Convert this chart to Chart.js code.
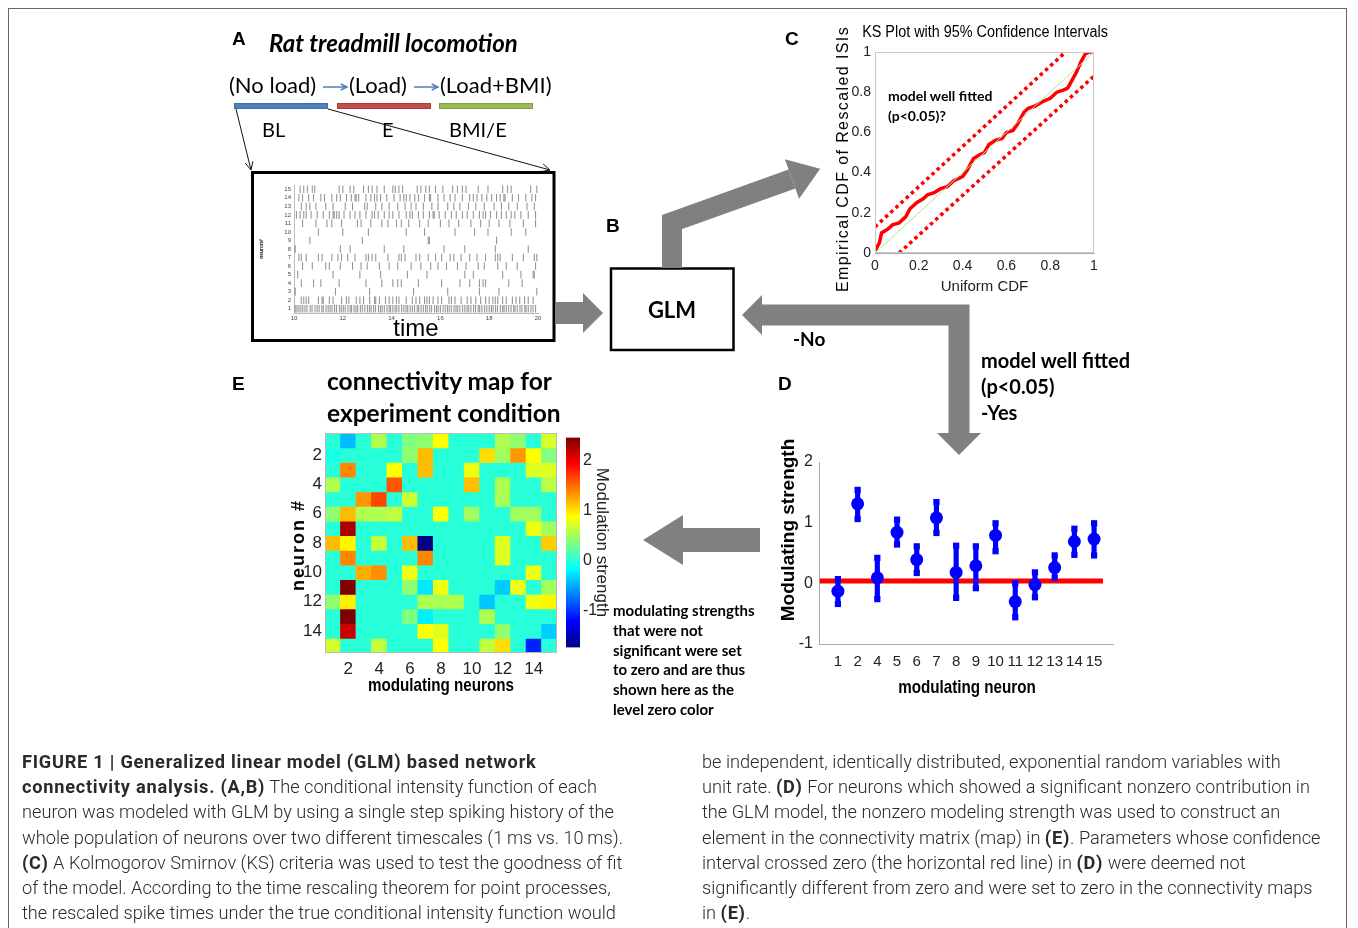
<!DOCTYPE html>
<html>
<head>
<meta charset="utf-8">
<script src="https://cdn.jsdelivr.net/npm/chart.js@4.4.1/dist/chart.umd.min.js"></script>
<style>
  body { margin: 0; width: 1358px; height: 928px; overflow: hidden; background: #fff; position: relative;
         font-family: 'Liberation Sans', Arial, sans-serif; }
  canvas { position: absolute; }
  .abs { position: absolute; white-space: nowrap; line-height: 1; }
  #frame { position: absolute; left: 8px; top: 8px; width: 1337px; height: 960px;
           border: 1.5px solid #666; border-bottom: none; }
  .cap { position: absolute; top: 749px; font-family: Roboto, 'Liberation Sans', sans-serif; font-weight: 300;
         font-size: 18.2px; line-height: 25.2px; color: #2a2a2a; white-space: nowrap; }
  .cap b { font-weight: 700; letter-spacing: 0.75px; }
</style>
</head>
<body>
<div id="frame"></div>
<canvas id="page" width="1358" height="928" style="left:0;top:0"></canvas>

<div class="cap" style="left:22px">
<b>FIGURE 1 | Generalized linear model (GLM) based network</b><br>
<b>connectivity analysis. (A,B)</b> The conditional intensity function of each<br>
neuron was modeled with GLM by using a single step spiking history of the<br>
whole population of neurons over two different timescales (1&#8201;ms vs. 10&#8201;ms).<br>
<b>(C)</b> A Kolmogorov Smirnov (KS) criteria was used to test the goodness of fit<br>
of the model. According to the time rescaling theorem for point processes,<br>
the rescaled spike times under the true conditional intensity function would
</div>
<div class="cap" style="left:702px">
be independent, identically distributed, exponential random variables with<br>
unit rate. <b>(D)</b> For neurons which showed a significant nonzero contribution in<br>
the GLM model, the nonzero modeling strength was used to construct an<br>
element in the connectivity matrix (map) in <b>(E)</b>. Parameters whose confidence<br>
interval crossed zero (the horizontal red line) in <b>(D)</b> were deemed not<br>
significantly different from zero and were set to zero in the connectivity maps<br>
in <b>(E)</b>.
</div>

<script>
// ---------- data ----------
// C: KS plot
const ksX = [0, 0.02, 0.03, 0.06, 0.08, 0.11, 0.14, 0.16, 0.19, 0.22, 0.24, 0.27, 0.3, 0.33, 0.36, 0.4, 0.42, 0.45,
  0.48, 0.5, 0.52, 0.55, 0.58, 0.6, 0.63, 0.65, 0.68, 0.7, 0.73, 0.76, 0.8, 0.83, 0.86, 0.88, 0.9, 0.92, 0.94, 0.96, 0.98, 1];
const ksY = [0.01, 0.05, 0.1, 0.12, 0.14, 0.15, 0.18, 0.22, 0.25, 0.27, 0.29, 0.3, 0.32, 0.33, 0.36, 0.38, 0.41, 0.47,
  0.49, 0.5, 0.54, 0.56, 0.57, 0.6, 0.61, 0.64, 0.7, 0.72, 0.73, 0.75, 0.77, 0.8, 0.81, 0.82, 0.86, 0.9, 0.95, 0.99, 1, 1];
const ciUpperX = [0, 0.87], ciUpperY = [0.13, 1];
const ciLowerX = [0.11, 1], ciLowerY = [0, 0.88];
const diagX = [0, 1], diagY = [0, 1];
const ksTicks = [0, 0.2, 0.4, 0.6, 0.8, 1];

// D: modulating strengths with confidence intervals
const dLabels = ['1', '2', '4', '5', '6', '7', '8', '9', '10', '11', '12', '13', '14', '15'];
const dMean = [-0.13, 1.31, 0.09, 0.84, 0.39, 1.08, 0.18, 0.29, 0.79, -0.30, -0.02, 0.26, 0.69, 0.73];
const dLow  = [-0.34, 1.06, -0.26, 0.64, 0.17, 0.83, -0.24, -0.08, 0.53, -0.56, -0.23, 0.09, 0.47, 0.46];
const dHigh = [0.07, 1.54, 0.42, 1.05, 0.61, 1.34, 0.62, 0.61, 0.99, 0.00, 0.18, 0.46, 0.90, 0.99];
const zeroLineX = [-0.92, 13.45];
const zeroLevel = 0.04;
const dTicksY = [-1, 0, 1, 2];

// E: connectivity map (rows = neuron #, columns = modulating neurons)
const heatCols = ['1', '2', '3', '4', '5', '6', '7', '8', '9', '10', '11', '12', '13', '14', '15'];
const row01 = [0, -0.43, 0, 0.56, 0, 0.37, 0.43, 0.89, 0, 0, 0, 0.56, 0.43, 0, 0.73];
const row02 = [-0.06, 0, 0, 0, 0, 0.43, 1.17, 0, 0, 0, 1.03, 0.50, 1.31, 0.89, 0.37];
const row03 = [0, 1.38, 0, 0, 0.89, 0, 1.17, 0, 0, 0.82, 0, 0, 0, 0.75, 0.75];
const row04 = [0.56, 0, 0, 0, 1.58, 0, 0, 0, 0, 1.15, 0, 0.56, 0, 0, 0.60];
const row05 = [0, 0, 1.31, 1.65, 0, 0.68, 0, 0, 0, 0, 0, 0.53, 0, 0, 0];
const row06 = [0.43, 1.17, 0.56, 0.56, 0.63, 0, 0, 0.89, 0, 0.50, 0, 0, 0.50, 0.50, 0];
const row07 = [0, 2.28, 0, 0, 0, 0, 0, 0, 0, 0, 0, 0, 0, 0.82, 0.50];
const row08 = [1.17, 0.92, 0, 0.65, 0, 1.17, -1.70, 0, 0, 0, 0, 0.76, 0, 0, 1.10];
const row09 = [0, 1.38, 0, 0, 0, 0, 1.38, 0, 0, 0, 0, 0.76, 0, 0, 0];
const row10 = [0, 0, 1.23, 1.35, 0, 0.82, 0, 0, 0, 0, 0, 0, 0, 0.82, 0];
const row11 = [0, 2.46, 0, 0, 0, 0.43, -0.25, 0.82, 0, 0, 0, -0.37, 0.82, 0, 0.50];
const row12 = [0.43, 0.95, 0, 0, 0, 0, 0.56, 0.53, 0.56, 0, -0.39, 0, 0, 0.82, 0.92];
const row13 = [0, 2.46, 0, 0, 0, 0.37, -0.22, 0, 0, 0, 0.56, 0, 0, 0, 0];
const row14 = [0, 2.15, 0, 0, 0, 0, 0.89, 0.76, 0, 0, 0, 0.43, 0, 0, -0.37];
const row15 = [0.70, 0, 0, 0.63, 0, 0, 0, 0.89, 0, 0, 0.63, 1.03, 0, -1.07, 0];
const heatRows = [row01, row02, row03, row04, row05, row06, row07, row08, row09, row10, row11, row12, row13, row14, row15];
const heatTicksY = [2, 4, 6, 8, 10, 12, 14];
const cMin = -1.73, cMax = 2.46;
const cbarTicks = [-1, 0, 1, 2];

// A: raster, spike times per neuron
const n01 = [10.05,10.12,10.2,10.28,10.36,10.45,10.53,10.66,10.74,10.86,10.95,11.03,11.14,11.2,11.31,11.4,11.48,11.56,11.66,11.74,
  11.86,11.94,12.02,12.1,12.21,12.3,12.36,12.46,12.54,12.61,12.72,12.8,12.9,13.01,13.09,13.16,13.26,13.34,13.46,13.54,13.61,13.7,
  13.81,13.9,13.96,14.05,14.14,14.21,14.3,14.41,14.5,14.59,14.66,14.76,14.85,14.94,15.05,15.11,15.21,15.3,15.39,15.46,15.56,15.64,
  15.76,15.84,15.91,16.0,16.11,16.2,16.29,16.36,16.45,16.56,16.64,16.71,16.8,16.91,17.0,17.09,17.16,17.25,17.36,17.44,17.55,17.61,
  17.7,17.81,17.9,18.0,18.09,18.16,18.26,18.34,18.46,18.55,18.61,18.7,18.8,18.9,19.0,19.06,19.15,19.26,19.34,19.46,19.51,19.6,19.71,19.8,19.9];
const n02 = [10.3,10.4,10.5,10.6,11.0,11.15,11.2,11.45,11.6,11.95,12.15,12.25,12.55,12.7,12.85,13.1,13.3,13.35,13.5,13.75,13.9,14.05,
  14.2,14.3,14.6,14.85,15.0,15.15,15.35,15.45,15.55,15.7,15.9,16.05,16.35,16.45,16.6,16.85,17.1,17.25,17.45,17.65,17.85,18.0,18.15,
  18.25,18.35,18.55,18.7,18.95,19.1,19.25,19.45,19.6,19.8];
const n03 = [10.05, 11.7, 13.1, 14.9, 16.3, 17.6, 18.4, 19.95];
const n04 = [10.3,10.8,11.1,11.85,12.95,13.6,14.05,14.25,14.4,15.1,16.05,16.8,17.2,17.6,17.75,17.85,18.8,19.35];
const n05 = [10.15, 11.6, 12.7, 13.55, 14.65, 15.45, 17.0, 17.35, 18.55, 19.3, 19.8, 19.85];
const n06 = [10.35,10.75,11.3,11.45,11.9,12.4,12.75,13.0,13.5,13.9,14.25,14.8,15.2,15.6,15.9,16.25,16.7,17.05,17.55,17.8,18.35,18.7,19.15,19.9];
const n07 = [10.2,10.3,10.5,11.0,11.15,11.55,11.8,11.95,12.2,12.5,12.95,13.05,13.2,13.35,13.85,14.3,14.4,14.55,15.0,15.15,15.5,
  15.8,16.05,16.4,16.55,16.85,17.2,17.5,17.85,18.25,18.35,18.45,18.95,19.4,19.85,19.95];
const n08 = [10.05, 11.9, 12.3, 13.7, 14.5, 16.15, 17.0, 18.25, 19.6];
const n09 = [10.65, 12.8, 15.5, 15.55, 18.3];
const n10 = [11.0, 12.0, 13.05, 14.6, 15.35, 16.6, 17.4, 17.95, 18.9, 19.5];
const n11 = [10.35,10.9,11.35,11.55,11.95,12.6,12.75,13.15,13.6,13.85,14.2,14.4,14.7,15.15,15.5,16.0,16.35,16.75,17.25,17.65,18.0,18.4,18.85,19.4,19.9];
const n12 = [10.1,10.25,10.4,10.5,10.7,10.95,11.2,11.45,11.6,11.65,11.75,11.85,12.05,12.3,12.5,12.7,12.95,13.2,13.3,13.45,13.7,13.9,
  14.05,14.3,14.6,14.75,14.85,15.1,15.3,15.55,15.7,15.75,15.95,16.2,16.45,16.65,16.9,17.1,17.35,17.6,17.75,17.85,18.05,18.3,18.5,
  18.7,18.9,19.05,19.3,19.6,19.9];
const n13 = [10.3,10.5,10.65,10.9,11.3,11.6,12.1,12.4,12.9,13.0,13.35,13.6,13.9,14.25,14.55,14.8,15.0,15.3,15.65,15.9,16.3,16.55,
  16.8,17.15,17.45,17.8,18.2,18.5,18.8,19.15,19.55,19.85];
const n14 = [10.2,10.35,10.6,10.8,11.1,11.25,11.55,11.75,11.9,12.15,12.35,12.5,12.55,12.65,12.95,13.15,13.3,13.4,13.55,13.8,14.1,
  14.35,14.5,14.6,14.75,14.95,15.1,15.35,15.55,15.6,15.9,16.15,16.4,16.6,16.9,17.2,17.35,17.5,17.7,17.9,18.1,18.3,18.45,18.6,18.65,
  18.95,19.2,19.5,19.75,19.9];
const n15 = [10.25,10.4,10.55,10.75,10.85,11.85,12.0,12.3,12.45,12.85,13.05,13.2,13.4,13.7,14.05,14.15,14.3,14.45,15.05,15.2,15.4,
  15.55,15.8,16.1,16.5,16.7,16.9,17.05,17.55,17.95,18.55,18.75,18.9,19.7,19.95];
const spikeTrains = [n01, n02, n03, n04, n05, n06, n07, n08, n09, n10, n11, n12, n13, n14, n15];
const rasterTicksX = [10, 12, 14, 16, 18, 20];
const rasterTicksY = [1, 2, 3, 4, 5, 6, 7, 8, 9, 10, 11, 12, 13, 14, 15];

// ---------- helpers ----------
const NARROW = "'Liberation Sans Narrow','Liberation Sans',Arial,sans-serif";
Chart.defaults.animation = false;
Chart.defaults.font.family = NARROW;
Chart.defaults.color = '#222';
Chart.defaults.plugins.legend.display = false;
Chart.defaults.plugins.tooltip.enabled = false;
Chart.defaults.events = [];

function clamp(v) { return Math.max(0, Math.min(1, v)); }
function jetT(t) {
  const r = clamp(1.5 - Math.abs(4 * t - 3)), g = clamp(1.5 - Math.abs(4 * t - 2)), b = clamp(1.5 - Math.abs(4 * t - 1));
  return `rgb(${Math.round(r * 255)},${Math.round(g * 255)},${Math.round(b * 255)})`;
}
function jet(v) { return jetT(clamp((v - cMin) / (cMax - cMin))); }

function cv(x, y, w, h) {
  const c = document.createElement('canvas');
  c.width = w; c.height = h;
  c.style.left = x + 'px'; c.style.top = y + 'px';
  c.style.width = w + 'px'; c.style.height = h + 'px';
  document.body.appendChild(c);
  return c;
}
function fixedTicks(arr) { return s => { s.ticks = arr.map(v => ({ value: v })); }; }
const noGrid = { display: false, drawTicks: false };

// light box round the plot area (matlab "box on")
const frame = {
  id: 'frame',
  afterDatasetsDraw(chart, args, opts) {
    if (!opts.color) return;
    const { ctx, chartArea: a } = chart;
    ctx.save();
    ctx.strokeStyle = opts.color;
    ctx.lineWidth = 1;
    ctx.strokeRect(Math.round(a.left) + 0.5, Math.round(a.top) + 0.5, Math.round(a.width) - 1, Math.round(a.height) - 1);
    ctx.restore();
  }
};

function pts(xs, ys) { return xs.map((x, i) => ({ x, y: ys[i] })); }

// ---------- C: KS plot ----------
new Chart(cv(830, 20, 290, 280), {
  type: 'scatter',
  data: {
    datasets: [
      { data: pts(diagX, diagY), showLine: true, borderColor: '#a6e6a6', borderWidth: 1, pointRadius: 0 },
      { data: pts(ciUpperX, ciUpperY), showLine: true, borderColor: '#ff0000', borderWidth: 3.5, borderDash: [3.5, 3.5], pointRadius: 0 },
      { data: pts(ciLowerX, ciLowerY), showLine: true, borderColor: '#ff0000', borderWidth: 3.5, borderDash: [3.5, 3.5], pointRadius: 0 },
      { data: pts(ksX, ksY), showLine: true, borderColor: '#ff0000', borderWidth: 3.5, pointRadius: 0 }
    ]
  },
  options: {
    responsive: false, devicePixelRatio: 1,
    layout: { padding: { top: 32, right: 26 } },
    plugins: { frame: { color: '#c8c8c8' } },
    scales: {
      x: {
        type: 'linear', min: 0, max: 1, afterFit: s => { s.height = 47; }, afterBuildTicks: fixedTicks(ksTicks),
        grid: noGrid, border: { color: '#aaa' }, ticks: { font: { size: 14 }, padding: 5, callback: v => String(v) },
        title: { display: true, text: 'Uniform CDF', font: { size: 15 }, padding: { top: 0, bottom: 4 } }
      },
      y: {
        min: 0, max: 1, afterFit: s => { s.width = 45; }, afterBuildTicks: fixedTicks(ksTicks),
        grid: noGrid, border: { color: '#aaa' }, ticks: { font: { size: 14 }, padding: 4, callback: v => String(v) }
      }
    }
  },
  plugins: [frame]
});

// ---------- D: modulating strength ----------
const caps = [];
dLabels.forEach((_, i) => { caps.push({ x: i, y: dLow[i] }, { x: i, y: dHigh[i] }); });
new Chart(cv(770, 430, 350, 270), {
  type: 'bar',
  data: {
    datasets: [
      { type: 'line', data: pts(zeroLineX, [zeroLevel, zeroLevel]), borderColor: '#ff0000', borderWidth: 5, pointRadius: 0, order: 4 },
      { type: 'bar', data: dLabels.map((_, i) => ({ x: i, y: [dLow[i], dHigh[i]] })), backgroundColor: '#0000ff', barThickness: 4.5, order: 3 },
      { type: 'scatter', data: caps, pointStyle: 'rect', pointRadius: 4.4, backgroundColor: '#0000ff', borderWidth: 0, order: 2 },
      { type: 'scatter', data: pts(dLabels.map((_, i) => i), dMean), pointRadius: 6.5, backgroundColor: '#0000ff', borderWidth: 0, order: 1 }
    ]
  },
  options: {
    responsive: false, devicePixelRatio: 1,
    layout: { padding: { top: 32, right: 7 } },
    scales: {
      x: {
        type: 'linear', min: -0.96, max: 13.96, offset: false, afterFit: s => { s.height = 56; },
        afterBuildTicks: fixedTicks(dLabels.map((_, i) => i)),
        grid: noGrid, border: { color: '#aaa' },
        ticks: { font: { size: 15 }, padding: 9, autoSkip: false, maxRotation: 0, minRotation: 0, callback: v => dLabels[v] }
      },
      y: {
        min: -1, max: 2, afterFit: s => { s.width = 49; }, afterBuildTicks: fixedTicks(dTicksY),
        grid: noGrid, border: { color: '#aaa' }, ticks: { font: { size: 16 }, padding: 6 }
      }
    }
  }
});

// ---------- E: connectivity map ----------
new Chart(cv(280, 420, 285, 280), {
  type: 'bar',
  data: {
    labels: heatCols,
    datasets: heatRows.map((row, r) => ({
      data: row.map(() => [r + 0.5, r + 1.5]),
      backgroundColor: row.map(v => jet(v)),
      grouped: false, barPercentage: 1, categoryPercentage: 1, borderWidth: 0
    }))
  },
  options: {
    responsive: false, devicePixelRatio: 1,
    layout: { padding: { top: 11, right: 8 } },
    plugins: { frame: { color: '#bbb' } },
    scales: {
      x: {
        afterFit: s => { s.height = 47; }, grid: noGrid, border: { display: false },
        ticks: { font: { size: 17 }, padding: 6, autoSkip: false, maxRotation: 0,
                 callback: (v, i) => (i % 2 === 1 ? heatCols[i] : '') }
      },
      y: {
        min: 0.5, max: 15.5, reverse: true, afterFit: s => { s.width = 45; }, afterBuildTicks: fixedTicks(heatTicksY),
        grid: noGrid, border: { display: false }, ticks: { font: { size: 17 }, padding: 3 }
      }
    }
  },
  plugins: [frame]
});

// colour bar
new Chart(cv(560, 425, 65, 235), {
  type: 'bar',
  data: {
    labels: [''],
    datasets: [{
      data: [[cMin, cMax]], barPercentage: 1, categoryPercentage: 1, borderWidth: 0,
      backgroundColor: c => {
        const a = c.chart.chartArea;
        if (!a) return '#000';
        const g = c.chart.ctx.createLinearGradient(0, a.bottom, 0, a.top);
        for (let i = 0; i <= 32; i++) g.addColorStop(i / 32, jetT(i / 32));
        return g;
      }
    }]
  },
  options: {
    responsive: false, devicePixelRatio: 1,
    layout: { padding: { left: 6, top: 5, bottom: 8 } },
    scales: {
      x: { display: false },
      y: {
        position: 'right', min: cMin, max: cMax, afterFit: s => { s.width = 45; }, afterBuildTicks: fixedTicks(cbarTicks),
        grid: noGrid, border: { display: false }, ticks: { font: { size: 16 }, padding: 3 },
        title: { display: true, text: 'Modulation strength', font: { size: 17 }, padding: { top: 13 } }
      }
    }
  }
});

// ---------- A: spike raster ----------
new Chart(cv(253, 174, 300, 166), {
  type: 'scatter',
  data: {
    datasets: [{
      data: spikeTrains.flatMap((times, k) => times.map(t => ({ x: t, y: k + 1 }))),
      pointStyle: 'line', rotation: 90, pointRadius: 3.8, borderColor: 'rgba(80,80,80,0.6)', borderWidth: 1.1
    }]
  },
  options: {
    responsive: false, devicePixelRatio: 1,
    layout: { padding: { top: 11, right: 15 } },
    scales: {
      x: {
        min: 10, max: 20, afterFit: s => { s.height = 27; }, afterBuildTicks: fixedTicks(rasterTicksX),
        grid: { display: false, drawTicks: false }, border: { color: '#bbb' },
        ticks: { font: { size: 6 }, padding: 2, color: '#444', autoSkip: false, maxRotation: 0 }
      },
      y: {
        min: 0.5, max: 15.5, afterFit: s => { s.width = 41; }, afterBuildTicks: fixedTicks(rasterTicksY),
        grid: { display: false, drawTicks: false }, border: { color: '#bbb' },
        ticks: { font: { size: 6 }, padding: 3, color: '#444', autoSkip: false },
        title: { display: true, text: 'neuron#', font: { size: 5, weight: 'bold' }, padding: { top: 6 } }
      }
    }
  }
});

// ---------- diagram drawing ----------
const pg = document.getElementById('page').getContext('2d');
const GRAY = '#808080';
function poly(p, fill) {
  pg.beginPath();
  p.forEach(([x, y], i) => (i ? pg.lineTo(x, y) : pg.moveTo(x, y)));
  pg.closePath(); pg.fillStyle = fill; pg.fill();
}
function band(p, w) {
  pg.beginPath();
  p.forEach(([x, y], i) => (i ? pg.lineTo(x, y) : pg.moveTo(x, y)));
  pg.lineWidth = w; pg.lineJoin = 'miter'; pg.lineCap = 'butt'; pg.strokeStyle = GRAY; pg.stroke();
}
function thinArrow(x1, y1, x2, y2, color, w, hs) {
  pg.beginPath(); pg.moveTo(x1, y1); pg.lineTo(x2, y2);
  const a = Math.atan2(y2 - y1, x2 - x1);
  pg.moveTo(x2 - hs * Math.cos(a - 0.45), y2 - hs * Math.sin(a - 0.45));
  pg.lineTo(x2, y2);
  pg.lineTo(x2 - hs * Math.cos(a + 0.45), y2 - hs * Math.sin(a + 0.45));
  pg.strokeStyle = color; pg.lineWidth = w; pg.lineJoin = 'miter'; pg.stroke();
}

// phase bars
[[234, '#4f81bd', '#3c6a9e'], [337, '#c0504d', '#9c3b39'], [439, '#9bbb59', '#7c9a43']].forEach(([x, f, s]) => {
  pg.fillStyle = f; pg.fillRect(x, 103, 94, 6);
  pg.strokeStyle = s; pg.lineWidth = 0.8; pg.strokeRect(x + 0.5, 103.5, 93, 5);
});
thinArrow(323, 87, 347, 87, '#4f81bd', 1.5, 7);
thinArrow(414, 87, 438, 87, '#4f81bd', 1.5, 7);
thinArrow(236, 109, 251, 170, '#111', 1, 9);
thinArrow(328, 109, 550, 170, '#111', 1, 9);

// raster box and GLM box
pg.strokeStyle = '#000';
pg.lineWidth = 3; pg.strokeRect(252.5, 172.5, 301.5, 168);
pg.lineWidth = 2.5; pg.strokeRect(611, 268.5, 122.5, 81.5);

// thick grey arrows
poly([[555, 302], [583, 302], [583, 293], [603, 313], [583, 333], [583, 324], [555, 324]], GRAY);
band([[672, 268], [672, 222], [792, 179]], 20);
poly([[784.9, 159.2], [820.2, 168.8], [799.1, 198.8]], GRAY);
band([[762, 315], [959, 315], [959, 434]], 21);
poly([[762, 295], [742, 315], [762, 335]], GRAY);
poly([[937, 433], [981, 433], [959, 455]], GRAY);
poly([[760, 528], [683, 528], [683, 515], [643, 540], [683, 565], [683, 552], [760, 552]], GRAY);

// ---------- text ----------
function label(html, x, y, css, anchor) {
  const d = document.createElement('div');
  d.className = 'abs';
  d.innerHTML = html;
  d.style.cssText += css;
  d.style.left = x + 'px'; d.style.top = y + 'px';
  d.style.transform = anchor || 'translate(0,-50%)';
  d.style.transformOrigin = anchor ? '50% 50%' : '0 50%';
  document.body.appendChild(d);
}
const PANEL = 'font-weight:bold;font-size:19px;';
const CAL = "font-family:Lato,'Open Sans',sans-serif;";
const CENTER = 'translate(-50%,-50%)';
label('A', 232, 38, PANEL);
label('B', 606, 225, PANEL);
label('C', 785, 38, PANEL);
label('D', 778, 383, PANEL);
label('E', 232, 383, PANEL);

label('Rat treadmill locomotion', 269, 43, CAL + 'font-weight:bold;font-style:italic;font-size:24px;');
label('(No load)', 229, 85, CAL + 'font-size:22px;');
label('(Load)', 349, 85, CAL + 'font-size:22px;');
label('(Load+BMI)', 440, 85, CAL + 'font-size:22px;');
label('BL', 262, 129, CAL + 'font-size:20px;');
label('E', 382, 129, CAL + 'font-size:20px;');
label('BMI/E', 449, 129, CAL + 'font-size:20px;');
label('time', 416, 328, 'font-size:24px;', CENTER);
label('GLM', 672, 310, CAL + 'font-weight:bold;font-size:22px;', CENTER);

label('KS Plot with 95% Confidence Intervals', 985, 32, 'font-size:16px;', CENTER + ' scaleX(0.9)');
label('Empirical CDF of Rescaled ISIs', 843, 159, 'font-size:16px;letter-spacing:1.4px;', CENTER + ' rotate(-90deg)');
label('model well fitted', 888, 96, CAL + 'font-weight:bold;font-size:14px;');
label('(p&lt;0.05)?', 888, 116, CAL + 'font-weight:bold;font-size:14px;');

label('-No', 793, 338, CAL + 'font-weight:bold;font-size:19px;');
label('model well fitted', 981, 360, CAL + 'font-weight:bold;font-size:20px;');
label('(p&lt;0.05)', 981, 386, CAL + 'font-weight:bold;font-size:20px;');
label('-Yes', 981, 412, CAL + 'font-weight:bold;font-size:20px;');

label('Modulating strength', 787, 530, 'font-weight:bold;font-size:19px;', CENTER + ' rotate(-90deg)');
label('modulating neuron', 967, 686, 'font-weight:bold;font-size:19px;', CENTER + ' scaleX(0.8)');

label('connectivity map for', 327, 381, CAL + 'font-weight:bold;font-size:24.5px;');
label('experiment condition', 327, 413, CAL + 'font-weight:bold;font-size:24.5px;');
label('neuron #', 298, 545, 'font-weight:bold;font-size:18px;letter-spacing:2px;', CENTER + ' rotate(-90deg)');
label('modulating neurons', 441, 684, 'font-weight:bold;font-size:19px;', CENTER + ' scaleX(0.8)');

['modulating strengths', 'that were not', 'significant were set', 'to zero and are thus', 'shown here as the', 'level zero color']
  .forEach((t, i) => label(t, 613, 610 + i * 19.8, CAL + 'font-weight:bold;font-size:15px;'));
</script>
</body>
</html>
